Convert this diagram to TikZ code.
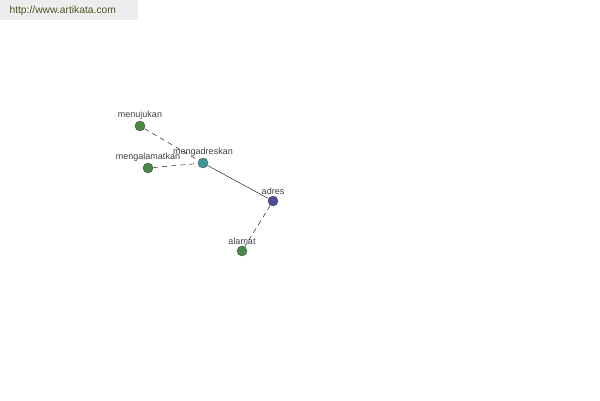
\documentclass[tikz,border=0pt]{standalone}
\usepackage{fontspec}
\setmainfont{Liberation Sans}
\definecolor{leafgreen}{HTML}{4A8A45}
\definecolor{tealnode}{HTML}{3C9A96}
\definecolor{bluenode}{HTML}{4A4C9C}
\definecolor{urlgreen}{HTML}{4A5A20}
\begin{document}
\begin{tikzpicture}[x=1pt, y=-1pt, every node/.style={font=\fontsize{9}{10}\selectfont, text=black!75}]
        \useasboundingbox (0,0) rectangle (600,400);
        \fill[black!7] (0,0) rectangle (138,20);
        \node[text=urlgreen, font=\fontsize{10.3}{12}\selectfont, anchor=west] (url) at (6,11) {http://www.artikata.com};
        \tikzset{word/.style={circle, draw=black!70, line width=0.4pt, minimum size=10pt, inner sep=0pt}}
        \foreach \name/\x/\y/\col in {menujukan/140/126/leafgreen, mengalamatkan/148/168/leafgreen, mengadreskan/203/163/tealnode, adres/273/201/bluenode, alamat/242/251/leafgreen} {
            \node[word, fill=\col] (\name) at (\x,\y) {};
            \node[anchor=south, inner sep=1pt] (\name-label) at (\x,\y-5) {\name};
        }
        \draw[dash pattern=on 5pt off 4pt] (menujukan) -- (mengadreskan);
        \draw[dash pattern=on 5pt off 4pt] (mengalamatkan) -- (mengadreskan);
        \draw (mengadreskan) -- (adres);
        \draw[dash pattern=on 5pt off 4pt] (adres) -- (alamat);
    \end{tikzpicture}
\end{document}
